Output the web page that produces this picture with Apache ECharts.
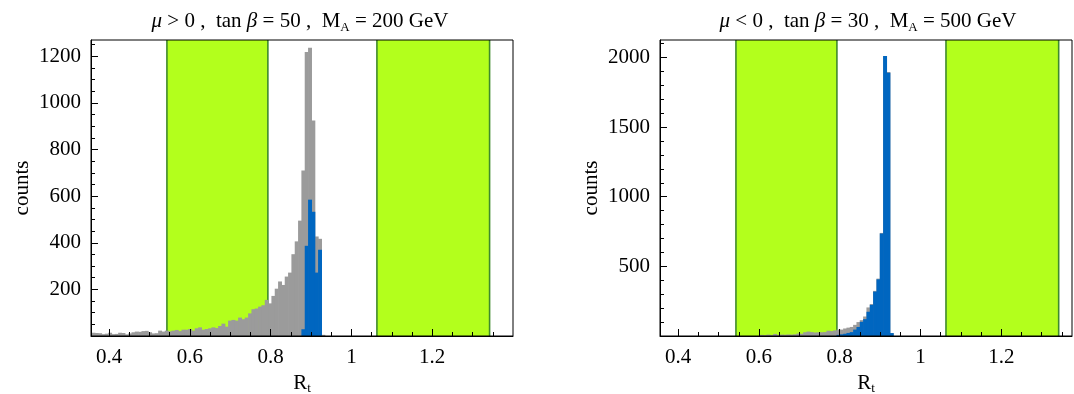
<!DOCTYPE html>
<html>
<head>
<meta charset="utf-8">
<script src="https://cdn.jsdelivr.net/npm/echarts@6.0.0/dist/echarts.min.js"></script>
<style>
html,body{margin:0;padding:0;background:#fff;}
#chart{width:1074px;height:394px;}
</style>
</head>
<body>
<div id="chart"></div>
<script>
// ---------- data ----------
const titles = ['{i|μ} > 0 ,  tan {i|β} = 50 ,  M{s|A} = 200 GeV',
                '{i|μ} < 0 ,  tan {i|β} = 30 ,  M{s|A} = 500 GeV'];
const xTickValues = [0.4, 0.6, 0.8, 1.0, 1.2];
const xTickLabels = ['0.4', '0.6', '0.8', '1', '1.2'];
const leftYTicks = [200, 400, 600, 800, 1000, 1200];
const rightYTicks = [500, 1000, 1500, 2000];
const bands = [[0.543, 0.793], [1.063, 1.342]];

const binWidth = 0.00825;
// left panel (mu > 0, tan beta = 50, MA = 200 GeV)
const leftBinStart = 0.348;
const leftGray = [14,14,13,12,8,10,14,8,9,14,
                  13,7,11,16,19,18,21,22,16,11,
                  12,23,19,23,20,23,26,21,27,27,
                  30,23,33,37,27,30,33,37,34,43,
                  53,40,66,69,66,79,72,79,97,115,
                  118,126,132,155,140,172,203,234,219,255,
                  272,351,406,495,710,1219,1237,925,427,417,
                  5];
const leftBlueFirstBin = 64;
const leftBlue = [29,387,585,533,272,370];
// right panel (mu < 0, tan beta = 30, MA = 500 GeV)
const rightBinStart = 0.3546;
const rightGrayFirstBin = 30;
const rightGray = [8,6,10,7,15,8,10,9,11,10,
                   12,18,16,27,32,28,25,26,27,28,
                   38,35,40,46,46,54,60,65,80,100,
                   114,140,205,229,324,412,740,2010,1895,21];
const rightBlueFirstBin = 53;
const rightBlue = [8,12,16,22,28,46,65,102,121,174,224,319,407,736,2010,1890,21];

// ---------- styling ----------
const FONT = '"Liberation Serif", "DejaVu Serif", serif';
const FS = 21;
const GRAY = '#9b9b9b', BLUE = '#0066c0', GREEN = '#b3ff1c', GREEN_EDGE = '#3f8a2c';

function histData(start, firstBin, counts) {
  return counts.map((c, i) => {
    const x0 = start + (firstBin + i) * binWidth;
    return [x0, x0 + binWidth, c];
  });
}
function histRender(params, api) {
  const p0 = api.coord([api.value(0), api.value(2)]);
  const p1 = api.coord([api.value(1), 0]);
  return {
    type: 'rect',
    shape: {x: p0[0], y: p0[1], width: p1[0] - p0[0] + 0.6, height: p1[1] - p0[1]},
    style: {fill: api.visual('color')}
  };
}
function bandRender(params, api) {
  const cs = params.coordSys;
  const a = api.coord([api.value(0), 0])[0];
  const b = api.coord([api.value(1), 0])[0];
  return {
    type: 'group',
    children: [
      {type: 'rect', shape: {x: a, y: cs.y, width: b - a, height: cs.height}, style: {fill: GREEN}},
      {type: 'line', shape: {x1: a, y1: cs.y, x2: a, y2: cs.y + cs.height}, style: {stroke: GREEN_EDGE, lineWidth: 1.6}},
      {type: 'line', shape: {x1: b, y1: cs.y, x2: b, y2: cs.y + cs.height}, style: {stroke: GREEN_EDGE, lineWidth: 1.6}}
    ]
  };
}
function range(a, b, step) { const r = []; for (let v = a; v <= b + 1e-9; v += step) r.push(+v.toFixed(4)); return r; }

const nameRich = {
  r: {fontFamily: FONT, fontSize: FS, lineHeight: 24, color: '#000'},
  s: {fontFamily: FONT, fontSize: 13, lineHeight: 11, verticalAlign: 'bottom', color: '#000'}
};

function xAxes(gridIndex, max) {
  return [
    {
      type: 'value', gridIndex, min: 0.355, max, position: 'bottom', z: 10,
      axisLine: {show: true, onZero: false, lineStyle: {color: '#000', width: 1}},
      axisTick: {show: true, inside: true, length: 7, lineStyle: {color: '#000'}, customValues: xTickValues},
      axisLabel: {show: true, customValues: xTickValues, margin: 11, color: '#000', fontFamily: FONT, fontSize: FS,
        formatter: v => { const i = xTickValues.findIndex(t => Math.abs(t - v) < 1e-6); return i >= 0 ? xTickLabels[i] : ''; }},
      splitLine: {show: false},
      name: '{r|R}{s|t}', nameLocation: 'middle', nameGap: 35,
      nameTextStyle: {fontFamily: FONT, fontSize: FS, color: '#000', rich: nameRich}
    },
    {
      type: 'value', gridIndex, min: 0.355, max, position: 'bottom', z: 10,
      axisLine: {show: false},
      axisTick: {show: true, inside: true, length: 4, lineStyle: {color: '#000'}, customValues: range(0.35, 1.4, 0.05).filter(v => v > 0.355 && v < max)},
      axisLabel: {show: false}, splitLine: {show: false}
    }
  ];
}
function yAxes(gridIndex, max, ticks, minorStep) {
  return [
    {
      type: 'value', gridIndex, min: 0, max, position: 'left', z: 10,
      axisLine: {show: true, onZero: false, lineStyle: {color: '#000', width: 1}},
      axisTick: {show: true, inside: true, length: 7, lineStyle: {color: '#000'}, customValues: ticks},
      axisLabel: {show: true, customValues: ticks, margin: 10, color: '#000', fontFamily: FONT, fontSize: FS,
        formatter: v => String(Math.round(v))},
      splitLine: {show: false},
      name: 'counts', nameLocation: 'middle', nameGap: 58, nameRotate: 90,
      nameTextStyle: {fontFamily: FONT, fontSize: FS, color: '#000'}
    },
    {
      type: 'value', gridIndex, min: 0, max, position: 'left', z: 10,
      axisLine: {show: false},
      axisTick: {show: true, inside: true, length: 4, lineStyle: {color: '#000'}, customValues: range(minorStep, max, minorStep)},
      axisLabel: {show: false}, splitLine: {show: false}
    }
  ];
}

const titleStyle = {
  fontFamily: FONT, fontSize: FS, fontWeight: 'normal', color: '#000', lineHeight: 26,
  rich: {
    i: {fontFamily: FONT, fontSize: FS, fontStyle: 'italic', lineHeight: 26, color: '#000'},
    s: {fontFamily: FONT, fontSize: 13, lineHeight: 12, verticalAlign: 'bottom', color: '#000'}
  }
};

const option = {
  animation: false,
  backgroundColor: '#fff',
  title: [
    {text: titles[0], left: 300, top: 8, padding: 0, textAlign: 'center', textStyle: titleStyle},
    {text: titles[1], left: 868, top: 8, padding: 0, textAlign: 'center', textStyle: titleStyle}
  ],
  grid: [
    {left: 91, top: 40, width: 422, height: 296, show: true, borderColor: '#000', borderWidth: 1,
      backgroundColor: 'transparent', z: 10, containLabel: false, outerBoundsMode: 'none'},
    {left: 660, top: 40, width: 412, height: 296, show: true, borderColor: '#000', borderWidth: 1,
      backgroundColor: 'transparent', z: 10, containLabel: false, outerBoundsMode: 'none'}
  ],
  xAxis: [...xAxes(0, 1.4), ...xAxes(1, 1.375)],
  yAxis: [...yAxes(0, 1270, leftYTicks, 50), ...yAxes(1, 2125, rightYTicks, 100)],
  series: [
    {type: 'custom', xAxisIndex: 0, yAxisIndex: 0, z: 1, clip: true, renderItem: bandRender, data: bands, encode: {x: [0, 1]}, silent: true},
    {type: 'custom', xAxisIndex: 0, yAxisIndex: 0, z: 2, clip: true, renderItem: histRender, itemStyle: {color: GRAY},
      data: histData(leftBinStart, 0, leftGray), encode: {x: [0, 1], y: 2}},
    {type: 'custom', xAxisIndex: 0, yAxisIndex: 0, z: 3, clip: true, renderItem: histRender, itemStyle: {color: BLUE},
      data: histData(leftBinStart, leftBlueFirstBin, leftBlue), encode: {x: [0, 1], y: 2}},
    {type: 'custom', xAxisIndex: 2, yAxisIndex: 2, z: 1, clip: true, renderItem: bandRender, data: bands, encode: {x: [0, 1]}, silent: true},
    {type: 'custom', xAxisIndex: 2, yAxisIndex: 2, z: 2, clip: true, renderItem: histRender, itemStyle: {color: GRAY},
      data: histData(rightBinStart, rightGrayFirstBin, rightGray), encode: {x: [0, 1], y: 2}},
    {type: 'custom', xAxisIndex: 2, yAxisIndex: 2, z: 3, clip: true, renderItem: histRender, itemStyle: {color: BLUE},
      data: histData(rightBinStart, rightBlueFirstBin, rightBlue), encode: {x: [0, 1], y: 2}}
  ]
};
const chart = echarts.init(document.getElementById('chart'), null, {renderer: 'canvas'});
chart.setOption(option);
</script>
</body>
</html>
